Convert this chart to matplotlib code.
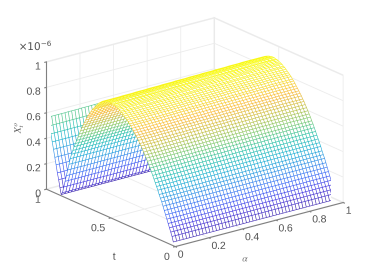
import matplotlib
matplotlib.use('Agg')
import matplotlib.pyplot as plt
import numpy as np
from matplotlib.colors import LinearSegmentedColormap, Normalize

plt.rcParams['font.family'] = ['Liberation Sans', 'DejaVu Sans']
plt.rcParams['mathtext.fontset'] = 'stix'

# values, z in units of 1e-6
zProfile = [.03, .07, .10, .13, .16, .19, .22, .25, .28, .31,
            .335, .36, .39, .415, .44, .465, .49, .515, .54, .56,
            .585, .605, .625, .645, .665, .685, .70, .72, .735, .75,
            .765, .78, .795, .81, .82, .835, .845, .855, .865, .875,
            .885, .89, .90, .905, .91, .915, .92, .92, .925, .925,
            .925, .92, .92, .915, .91, .905, .895, .885, .875, .86,
            .845, .83, .815, .80, .78, .76, .74, .72, .695, .67,
            .645, .62, .59, .56, .53, .50, .47, .44, .405, .37,
            .33, .28, .23, .18, .13, .08, .03, .01,
            .06, .12, .17, .23, .285, .345, .40, .46, .52, .585]
alphaGain = [.98, .98, .98, .98, .98, .98, .982, .982, .982, .982,
             .984, .984, .984, .984, .986, .986, .986, .986, .988, .988,
             .988, .988, .99, .99, .99, .99, .992, .992, .992, .992,
             .994, .994, .994, .994, .996, .996, .996, .996, .998, .998,
             .998, .998, 1.0, 1.0, 1.0, 1.0, 1.0, 1.0, 1.0, 1.0]
alphaTicks = [0, 0.2, 0.4, 0.6, 0.8, 1]
alphaLabels = ['0', '0.2', '0.4', '0.6', '0.8', '1']
tTicks = [0, 0.5, 1]
tLabels = ['0', '0.5', '1']
zTicks = [0, 0.2, 0.4, 0.6, 0.8, 1]
zLabels = ['0', '0.2', '0.4', '0.6', '0.8', '1']
parulaColors = ['#3e26a8', '#4435e0', '#3a68f8', '#2e8fe6', '#18b0d2', '#28c1a6',
                '#7cc96d', '#c9bf40', '#fbba38', '#f5e22a', '#f9fb15']

parula = LinearSegmentedColormap.from_list('parula', parulaColors)

tVals = 0.015 + 0.01 * np.arange(len(zProfile))
alphaVals = np.linspace(0, 0.97, len(alphaGain))
A, T = np.meshgrid(alphaVals, tVals)
Z = np.outer(zProfile, alphaGain)

fig = plt.figure(figsize=(3.74, 2.8), dpi=100)
ax = fig.add_axes([4/374, 4/280, 1, 1], projection='3d')
ax.set_proj_type('ortho')
ax.view_init(elev=20, azim=-127.5)
ax.set_box_aspect((1, 1, 0.64), zoom=1.139)

surf = ax.plot_surface(A, T, Z, rcount=Z.shape[0], ccount=Z.shape[1], color='white', shade=False,
                       linewidth=0.42, antialiased=True)
surf.set_facecolor('white')
surf.set_edgecolor(parula(Normalize(Z.min(), Z.max())(Z[:-1, :-1])).reshape(-1, 4))
surf.set_snap(False)

ax.set_xlim(0, 1, view_margin=0)
ax.set_ylim(0, 1, view_margin=0)
ax.set_zlim(0, 1, view_margin=0)
ax.set_xticks(alphaTicks, alphaLabels, ha='left')
ax.set_yticks(tTicks, tLabels, ha='right')
ax.set_zticks(zTicks, zLabels, ha='right')
ax.tick_params(labelsize=7.5, labelcolor='#505050', color='#808080')
ax.xaxis.set_tick_params(pad=-6)
ax.yaxis.set_tick_params(pad=-4.5)
ax.zaxis.set_tick_params(pad=-6)

for axis in [ax.xaxis, ax.yaxis, ax.zaxis]:
    axis.set_pane_color((1, 1, 1, 1))
    axis.pane.set_edgecolor('#e8e8e8')
    axis.line.set_color('#808080')
    axis.line.set_linewidth(0.8)
    axis._axinfo['grid'].update(color='#ececec', linewidth=0.6)
    axis._axinfo['tick'].update(inward_factor=0.12, outward_factor=0)

fig.text(114/374, 1-257/280, 't', fontsize=7.5, color='#505050', ha='center', va='center')
fig.text(245/374, 1-259/280, r'$\alpha$', fontsize=7, color='#707070', ha='center', va='center')
fig.text(19/374, 1-128/280, r'$X_t^o$', fontsize=7, color='#505050', rotation=90, ha='center', va='center')
fig.text(35/374, 1-47/280, r'$\times 10^{-6}$', fontsize=7.5, color='#505050', ha='center', va='center',
         math_fontfamily='dejavusans')

# the mesh is finer than a pixel, so draw big and average down
scale = 4
fig.set_dpi(100 * scale)
fig.canvas.draw()
big = np.asarray(fig.canvas.buffer_rgba())[:, :, :3] / 255.0
small = big.reshape(280, scale, 374, scale, 3).mean(axis=(1, 3))
plt.imsave('out.png', small)
